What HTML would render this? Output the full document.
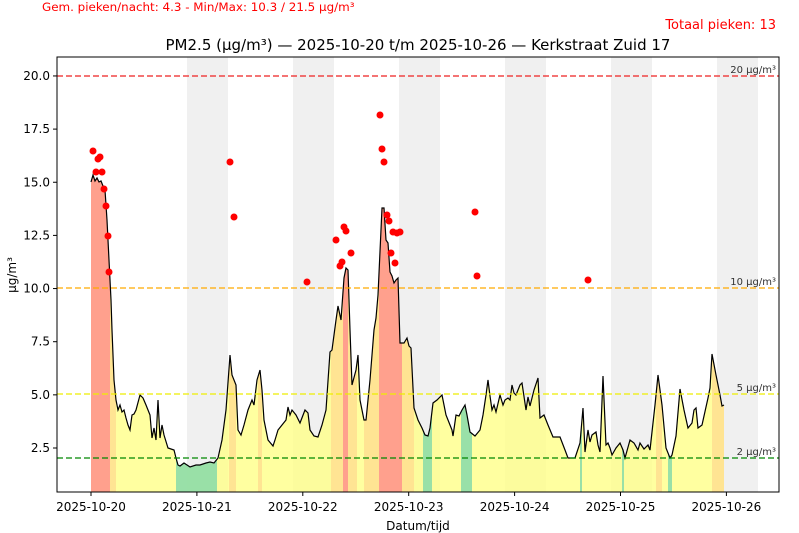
<!DOCTYPE html>
<html><head><meta charset="utf-8"><style>body{margin:0;background:#fff}svg{display:block;font-family:"DejaVu Sans","Liberation Sans",sans-serif}</style></head><body>
<svg width="799" height="533" viewBox="0 0 799 533">
<defs><clipPath id="a"><polygon id="ap" points=""/></clipPath></defs>
<text x="42" y="11" font-size="11.9" fill="#f00">Gem. pieken/nacht: 4.3 - Min/Max: 10.3 / 21.5 µg/m³</text>
<text x="776" y="29" font-size="13" fill="#f00" text-anchor="end">Totaal pieken: 13</text>
<text x="418" y="50" font-size="15" text-anchor="middle">PM2.5 (µg/m³) — 2025-10-20 t/m 2025-10-26 — Kerkstraat Zuid 17</text>
<g fill="#f0f0f0">
<rect x="187" y="57" width="41" height="435"/><rect x="293" y="57" width="41" height="435"/><rect x="399" y="57" width="41" height="435"/><rect x="505" y="57" width="41" height="435"/><rect x="611" y="57" width="41" height="435"/><rect x="717" y="57" width="41" height="435"/></g>
<g id="fills" clip-path="url(#a)" fill-opacity="0.8">
<rect x="88" y="57" width="640" height="435" fill="#ffff88"/>
<g fill="#ff8888"><rect x="91" y="57" width="19" height="435"/><rect x="343" y="57" width="5" height="435"/><rect x="379" y="57" width="23" height="435"/></g>
<g fill="#ffdd90"><rect x="110" y="57" width="6" height="435"/><rect x="331" y="57" width="12" height="435"/><rect x="348" y="57" width="9" height="435"/><rect x="364" y="57" width="15" height="435"/><rect x="402" y="57" width="12" height="435"/><rect x="712" y="57" width="12" height="435"/><rect x="656" y="57" width="6" height="435"/><rect x="229" y="57" width="7" height="435"/><rect x="258" y="57" width="4" height="435"/></g>
<g fill="#80d8aa"><rect x="176" y="57" width="41" height="435"/><rect x="423" y="57" width="9" height="435"/><rect x="461" y="57" width="11" height="435"/><rect x="668" y="57" width="4" height="435"/><rect x="580" y="57" width="2" height="435"/><rect x="622" y="57" width="2" height="435"/></g>
</g>
<polyline id="ln" fill="none" stroke="#000" stroke-width="1.2" points=""/>
<g stroke-dasharray="6,3" stroke-width="1.2">
<line x1="57" x2="779" y1="76" y2="76" stroke="#e22"/><line x1="57" x2="779" y1="288" y2="288" stroke="#fa0"/><line x1="57" x2="779" y1="394" y2="394" stroke="#ee0"/><line x1="57" x2="779" y1="458" y2="458" stroke="#080"/></g>
<g font-size="10" fill="#333" text-anchor="end"><text x="776" y="73">20 µg/m³</text><text x="776" y="285">10 µg/m³</text><text x="776" y="391">5 µg/m³</text><text x="776" y="455">2 µg/m³</text></g>
<g fill="#f00" id="dots"></g>
<rect x="57" y="57" width="722" height="435" fill="none" stroke="#000" stroke-width="1"/>
<g font-size="12" text-anchor="end" id="yt"></g>
<g font-size="12" text-anchor="middle" id="xt"></g>
<text x="418" y="530" font-size="12" text-anchor="middle">Datum/tijd</text>
<text transform="translate(16,275) rotate(-90)" font-size="12" text-anchor="middle">µg/m³</text>
</svg>
<script>
var P=[91,182,93,175,95,181,97,178,99,182,101,181,103,186,105,190,107,220,109,260,111,300,112,330,114,380,116,400,118,410,120,405,122,412,124,410,126,418,128,425,130,430,132,415,134,414,136,410,140,395,143,398,146,405,148,410,150,415,152,438,154,428,156,440,158,400,160,438,162,425,164,435,168,448,174,450,176,458,178,465,180,466,184,463,190,467,196,465,200,465,206,463,210,462,214,463,218,458,222,440,226,410,230,355,232,375,236,385,238,430,241,435,244,425,248,410,252,400,254,405,257,380,260,370,262,390,264,420,268,440,273,446,275,440,278,430,282,425,286,420,288,407,290,415,292,410,296,415,300,423,305,410,308,413,310,430,314,436,318,437,322,425,326,410,330,352,332,350,336,320,338,306,341,320,344,278,346,268,348,270,350,330,352,385,356,370,358,355,360,400,364,420,366,420,370,380,374,330,376,318,378,295,382,208,384,208,386,240,388,243,390,272,392,276,394,283,396,280,398,278,400,343,404,343,407,338,409,346,411,348,414,408,418,420,422,428,425,435,428,436,430,428,433,403,437,400,442,395,446,415,450,425,452,430,453,436,456,415,459,416,462,410,465,405,467,415,470,432,475,436,480,430,483,415,486,395,488,380,490,396,492,410,494,405,496,412,500,395,503,405,505,400,508,398,510,400,512,385,514,393,516,395,520,385,522,383,526,410,528,397,530,406,534,390,538,378,540,418,544,415,548,425,553,437,560,437,565,450,568,458,575,458,580,443,583,408,585,452,588,430,590,442,592,435,596,432,598,445,600,452,603,376,606,445,608,443,610,448,612,455,616,448,620,443,623,450,625,458,630,440,634,443,638,450,640,443,644,449,648,445,650,450,655,405,658,375,662,405,666,448,670,458,672,455,676,436,680,389,684,410,688,428,692,423,694,410,696,408,698,428,702,425,706,407,708,398,710,388,712,354,716,375,720,395,722,406,724,405];
var s=[];for(var i=0;i<P.length;i+=2)s.push(P[i]+','+P[i+1]);
document.getElementById('ln').setAttribute('points',s.join(' '));
document.getElementById('ap').setAttribute('points','91,492 '+s.join(' ')+' 724,492');
var D=[93,151,96,172,98,159,100,157,102,172,104,189,106,206,108,236,109,272,230,162,234,217,307,282,336,240,340,266,342,262,344,227,346,231,351,253,380,115,382,149,384,162,387,215,389,221,393,232,397,233,400,232,391,253,395,263,475,212,477,276,588,280];
var h='';for(i=0;i<D.length;i+=2)h+='<circle cx="'+D[i]+'" cy="'+D[i+1]+'" r="3.5"/>';
document.getElementById('dots').innerHTML=h;
h='';for(var v=2.5;v<=20;v+=2.5){var y=448-(v-2.5)*21.26;h+='<line x1="53" x2="57" y1="'+y+'" y2="'+y+'" stroke="#000"/><text x="50" y="'+(y+4)+'">'+v.toFixed(1)+'</text>';}
document.getElementById('yt').innerHTML=h;
h='';for(i=0;i<7;i++){var x=91+i*105.9;h+='<line x1="'+x+'" x2="'+x+'" y1="492" y2="496" stroke="#000"/><text x="'+x+'" y="511">2025-10-'+(20+i)+'</text>';}
document.getElementById('xt').innerHTML=h;
</script>
</body></html>
